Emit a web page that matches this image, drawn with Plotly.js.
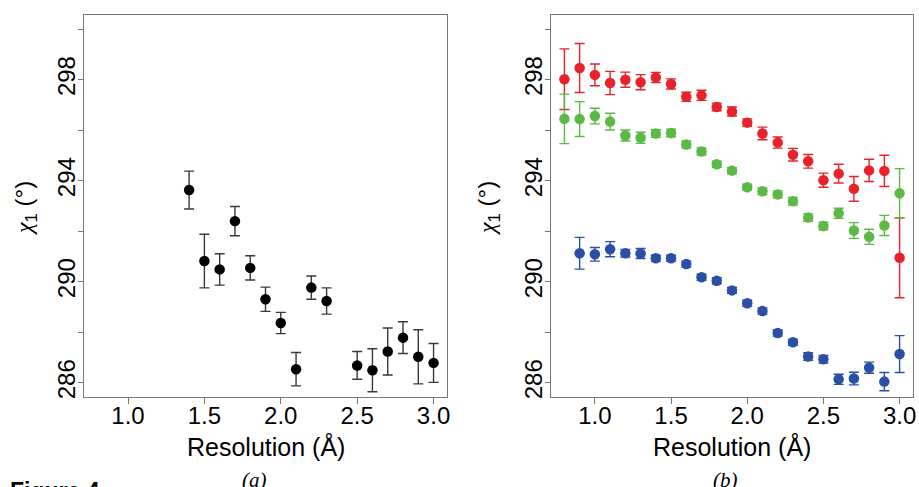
<!DOCTYPE html>
<html><head><meta charset="utf-8">
<script src="https://cdn.plot.ly/plotly-3.0.1.min.js"></script>
<style>html,body{margin:0;padding:0;background:#fff;}#chart{width:919px;height:487px;}</style>
</head><body><div id="chart"></div>
<script>
// Panel (a)
const resA = [1.4,1.5,1.6,1.7,1.8,1.9,2.0,2.1,2.2,2.3,2.5,2.6,2.7,2.8,2.9,3.0];
const chiA = [293.63,290.82,290.49,292.40,290.55,289.31,288.37,286.54,289.77,289.24,286.69,286.50,287.24,287.79,287.03,286.79];
const errA = [0.75,1.06,0.62,0.58,0.48,0.48,0.42,0.66,0.46,0.52,0.55,0.85,0.93,0.63,1.07,0.77];
// Panel (b)
const resB = [0.8,0.9,1.0,1.1,1.2,1.3,1.4,1.5,1.6,1.7,1.8,1.9,2.0,2.1,2.2,2.3,2.4,2.5,2.6,2.7,2.8,2.9,3.0];
const chiRed = [298.02,298.46,298.19,297.87,298.00,297.90,298.09,297.83,297.32,297.38,296.92,296.74,296.30,295.87,295.51,295.03,294.77,294.02,294.28,293.68,294.41,294.39,290.95];
const errRed = [1.2,0.97,0.43,0.46,0.3,0.3,0.2,0.2,0.18,0.2,0.15,0.18,0.15,0.25,0.22,0.25,0.27,0.28,0.37,0.49,0.44,0.62,1.58];
const chiGreen = [296.45,296.44,296.56,296.34,295.79,295.70,295.87,295.89,295.43,295.16,294.65,294.40,293.74,293.58,293.46,293.19,292.54,292.21,292.71,292.03,291.78,292.23,293.50];
const errGreen = [0.98,0.69,0.31,0.33,0.22,0.22,0.15,0.15,0.14,0.14,0.12,0.12,0.12,0.13,0.14,0.15,0.15,0.15,0.2,0.31,0.3,0.4,0.98];
const chiBlue = [null,291.13,291.09,291.29,291.13,291.12,290.93,290.93,290.70,290.18,290.04,289.66,289.15,288.84,287.97,287.61,287.04,286.93,286.14,286.17,286.60,286.05,287.14];
const errBlue = [null,0.63,0.27,0.3,0.15,0.2,0.12,0.12,0.12,0.12,0.12,0.12,0.12,0.12,0.12,0.12,0.15,0.15,0.2,0.25,0.22,0.36,0.73];
// Axis ticks
const yTickVals = [286,288,290,292,294,296,298,300];
const yTickText = ['286','','290','','294','','298',''];
const xTickVals = [1.0,1.5,2.0,2.5,3.0];
const xTickText = ['1.0','1.5','2.0','2.5','3.0'];
const panelLabels = ['(a)','(b)'];
const xTitle = 'Resolution (Å)';
const yTitle = '<span style="font-family:\'Liberation Serif\',serif"><i>χ</i></span><sub>1</sub> (°)';

const RED='#e8222b', GREEN='#5cb947', BLUE='#2a50a6';

function series(x,y,e,color,errColor,xa,ya){
  return {x:x,y:y,type:'scatter',mode:'markers',xaxis:xa,yaxis:ya,
    marker:{color:color,size:10.5,line:{width:0}},
    error_y:{type:'data',array:e,visible:true,color:errColor,thickness:1.4,width:5},
    hoverinfo:'skip',showlegend:false,cliponaxis:false};
}
const traces=[
  series(resA,chiA,errA,'#000','#3a3a3a','x','y'),
  series(resB,chiRed,errRed,RED,RED,'x2','y2'),
  series(resB,chiGreen,errGreen,GREEN,GREEN,'x2','y2'),
  series(resB,chiBlue,errBlue,BLUE,BLUE,'x2','y2')
];

const W=919;
const tickFont={family:'Liberation Sans, Arial, sans-serif',size:24,color:'#000'};
function xax(d0,d1){return {domain:[d0/W,d1/W],range:[0.712,3.088],tickvals:xTickVals,ticktext:xTickText,
  ticks:'outside',ticklen:6,tickwidth:1,tickcolor:'#777',showline:true,mirror:true,linecolor:'#777',linewidth:1.2,
  ticklabelstandoff:-9,
  showgrid:false,zeroline:false,tickfont:tickFont};}
function yax(anchor){return {anchor:anchor,domain:[0,1],range:[285.44,300.56],tickvals:yTickVals,ticktext:yTickText,
  tickangle:-90,ticks:'outside',ticklen:5,tickwidth:1,tickcolor:'#777',showline:true,mirror:true,linecolor:'#777',linewidth:1.2,
  ticklabelstandoff:-7,
  showgrid:false,zeroline:false,tickfont:tickFont};}

const H=487, plotTop=15, plotBot=397;
function py(p){return (plotBot-p)/(plotBot-plotTop);}
const annFont={family:'Liberation Sans, Arial, sans-serif',size:25,color:'#000'};
const yFont={family:'Liberation Sans, Arial, sans-serif',size:24,color:'#000'};
const labFont={family:'Liberation Serif, Times New Roman, serif',size:21,color:'#000'};
const annotations=[
  {text:xTitle,xref:'paper',yref:'paper',x:265.5/W,y:py(446),xanchor:'center',yanchor:'middle',showarrow:false,font:annFont},
  {text:xTitle,xref:'paper',yref:'paper',x:732/W,y:py(446),xanchor:'center',yanchor:'middle',showarrow:false,font:annFont},
  {text:yTitle,xref:'paper',yref:'paper',x:26/W,y:py(208),xanchor:'center',yanchor:'middle',textangle:-90,showarrow:false,font:yFont},
  {text:yTitle,xref:'paper',yref:'paper',x:489/W,y:py(208),xanchor:'center',yanchor:'middle',textangle:-90,showarrow:false,font:yFont},
  {text:'<i>'+panelLabels[0]+'</i>',xref:'paper',yref:'paper',x:254/W,y:py(480),xanchor:'center',yanchor:'middle',showarrow:false,font:labFont},
  {text:'<i>'+panelLabels[1]+'</i>',xref:'paper',yref:'paper',x:725/W,y:py(480),xanchor:'center',yanchor:'middle',showarrow:false,font:labFont},
  {text:'<b>Figure 4</b>',xref:'paper',yref:'paper',x:8/W,y:py(476),xanchor:'left',yanchor:'top',showarrow:false,font:{family:'Liberation Sans, Arial, sans-serif',size:23,color:'#000'}}
];

const layout={width:919,height:487,margin:{l:0,r:0,t:plotTop,b:H-plotBot,pad:0},
  paper_bgcolor:'#fff',plot_bgcolor:'#fff',showlegend:false,
  xaxis:Object.assign(xax(84,447),{anchor:'y'}),yaxis:yax('x'),xaxis2:Object.assign(xax(551,913),{anchor:'y2'}),yaxis2:yax('x2'),
  annotations:annotations};
Plotly.newPlot('chart',traces,layout,{staticPlot:true,displayModeBar:false});
</script></body></html>
